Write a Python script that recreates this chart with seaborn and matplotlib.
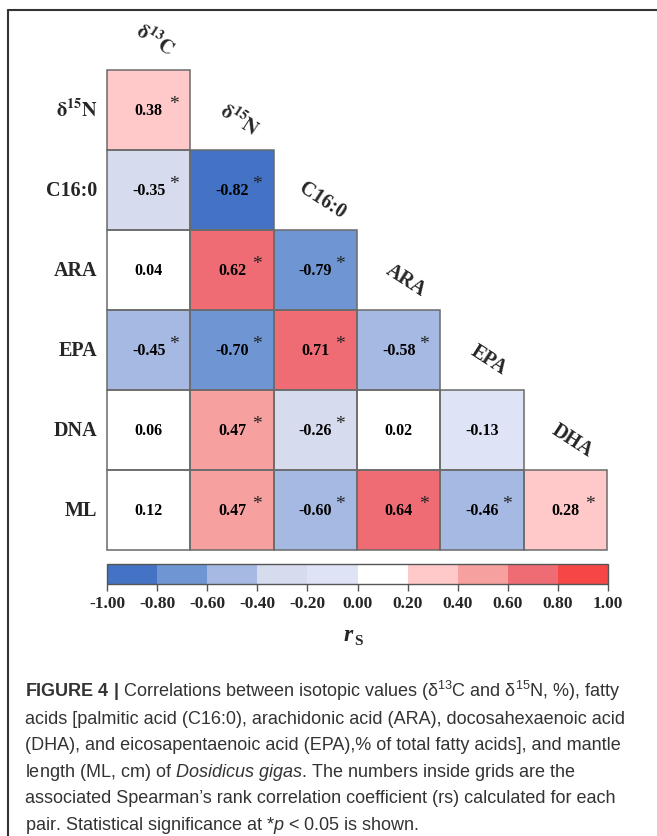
import numpy as np
import pandas as pd
import matplotlib
matplotlib.use('Agg')
import matplotlib.pyplot as plt
import seaborn as sns
from matplotlib.colors import ListedColormap, BoundaryNorm
from matplotlib.lines import Line2D
from matplotlib.patches import Rectangle

sns.set_theme(style='white')
plt.rcParams['font.family'] = ['Liberation Serif', 'DejaVu Serif']
plt.rcParams['mathtext.fontset'] = 'custom'
plt.rcParams['mathtext.rm'] = 'Liberation Sans'
plt.rcParams['mathtext.it'] = 'Liberation Sans:italic'
plt.rcParams['mathtext.bf'] = 'Liberation Sans:bold'

# rows / columns of the lower-triangle matrix
row_labels = [r'$\mathbf{\delta^{15}N}$', 'C16:0', 'ARA', 'EPA', 'DNA', 'ML']
col_labels = [r'$\mathbf{\delta^{13}C}$', r'$\mathbf{\delta^{15}N}$', 'C16:0', 'ARA', 'EPA', 'DHA']

# Spearman rs, one list per row
rs_values = [
    [0.38],
    [-0.35, -0.82],
    [0.04, 0.62, -0.79],
    [-0.45, -0.70, 0.71, -0.58],
    [0.06, 0.47, -0.26, 0.02, -0.13],
    [0.12, 0.47, -0.60, 0.64, -0.46, 0.28],
]
# 1 = p < 0.05
significant = [
    [1],
    [1, 1],
    [0, 1, 1],
    [1, 1, 1, 1],
    [0, 1, 1, 0, 0],
    [0, 1, 1, 1, 1, 1],
]

bin_edges = [-1.0, -0.8, -0.6, -0.4, -0.2, 0.0, 0.2, 0.4, 0.6, 0.8, 1.0]
bin_colors = ['#4472C4', '#6F96D3', '#A6B9E2', '#D6DCEE', '#DEE4F5',
              '#FFFFFF', '#FFC9CA', '#F6A0A0', '#EF6C75', '#F74646']

caption_lines = [
    r"$\mathbf{FIGURE\ 4\ |}$ Correlations between isotopic values (δ$^{13}$C and δ$^{15}$N, %), fatty",
    "acids [palmitic acid (C16:0), arachidonic acid (ARA), docosahexaenoic acid",
    "(DHA), and eicosapentaenoic acid (EPA),% of total fatty acids], and mantle",
    r"length (ML, cm) of $\mathit{Dosidicus\ gigas}$. The numbers inside grids are the",
    "associated Spearman’s rank correlation coefficient (rs) calculated for each",
    r"pair. Statistical significance at *$\mathit{p}$ < 0.05 is shown.",
]

n = len(row_labels)
mat = np.full((n, n), np.nan)
for i, row in enumerate(rs_values):
    mat[i, :len(row)] = row
df = pd.DataFrame(mat, index=row_labels, columns=col_labels)
mask = np.isnan(mat)

cmap = ListedColormap(bin_colors)
norm = BoundaryNorm(bin_edges, cmap.N)

W, H = 657, 837
fig = plt.figure(figsize=(W / 100, H / 100), dpi=100)
ax = fig.add_axes([107 / W, 1 - 551 / H, 500 / W, 480 / H])
cax = fig.add_axes([107 / W, 1 - 585 / H, 501 / W, 20 / H])

sns.heatmap(df, mask=mask, cmap=cmap, norm=norm, vmin=-1, vmax=1,
            annot=True, fmt='.2f',
            annot_kws={'fontsize': 11.5, 'fontweight': 'bold', 'color': 'black'},
            linewidths=0, xticklabels=False, ax=ax, cbar_ax=cax,
            cbar_kws={'orientation': 'horizontal', 'ticks': bin_edges})

# cell borders only on the drawn triangle, plus significance stars
for i, row in enumerate(significant):
    for j, s in enumerate(row):
        ax.add_patch(Rectangle((j, i), 1, 1, fill=False, edgecolor='#6a6a6a',
                               lw=1.1, clip_on=False))
        if s:
            ax.text(j + 0.8, i + 0.42, '*', ha='center', va='center',
                    fontsize=14, color='#222222')

# rotated column labels above the diagonal
for j, lab in enumerate(col_labels):
    ax.text(j + 0.58, j - 0.38, lab, rotation=-33, ha='center', va='center',
            fontsize=14.5, fontweight='bold', rotation_mode='anchor',
            clip_on=False, math_fontfamily='stix')

ax.set_yticklabels(row_labels, rotation=0, fontsize=14.5, fontweight='bold')
for t in ax.get_yticklabels():
    t.set_math_fontfamily('stix')
ax.tick_params(axis='y', length=0, pad=7)
ax.set_xlabel('')
ax.set_ylabel('')

cb = ax.collections[0].colorbar
cb.outline.set_linewidth(1)
cb.outline.set_edgecolor('#555555')
cax.tick_params(axis='x', direction='out', length=5, width=1, color='#555555',
                labelsize=12.5, pad=3)
cax.set_xticklabels([f'{t:.2f}' for t in bin_edges], fontweight='bold')

# colorbar label r_S
fig.text(348 / W, 1 - 641 / H, 'r', fontsize=17, fontstyle='italic',
         fontweight='bold', ha='center', va='baseline')
fig.text(358 / W, 1 - 645 / H, 'S', fontsize=11, fontweight='bold',
         ha='center', va='baseline')

# frame lines (top and left)
fig.add_artist(Line2D([8 / W, 1], [1 - 11 / H, 1 - 11 / H], color='#333333', lw=1.5))
fig.add_artist(Line2D([8 / W, 8 / W], [0, 1 - 11 / H], color='#333333', lw=1.5))

# caption
for k, line in enumerate(caption_lines):
    fig.text(25 / W, 1 - (697 + 26.6 * k) / H, line, fontsize=13,
             family='Liberation Sans', color='#333333', ha='left', va='baseline')

fig.savefig('out.png', dpi=100)
